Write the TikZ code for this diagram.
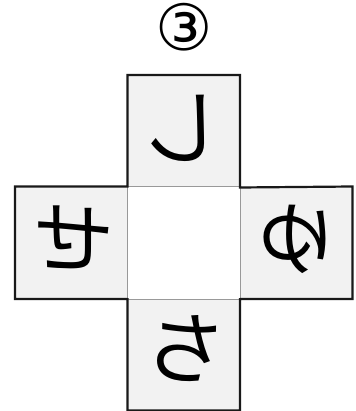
\documentclass[tikz,border=0pt]{standalone}
\usepackage{fontspec}
\usepackage{graphicx}
\newfontfamily\jpfont{Noto Sans CJK JP}
\newfontfamily\symfont{DejaVu Sans}
\begin{document}
\begin{tikzpicture}[x=1pt,y=-1pt,
  outercell/.style={draw=none,fill=black!5,minimum size=112.5pt,inner sep=0pt,outer sep=0pt},
  centercell/.style={draw=black!40,line width=0.8pt,fill=white,minimum size=112.5pt,inner sep=0pt,outer sep=0pt},
  glyph/.style={inner sep=0pt,font=\jpfont\fontsize{80}{80}\selectfont},
  outline/.style={draw=black!90,line width=2.2pt,line join=miter}]
\useasboundingbox (0,0) rectangle (355,411);
\node[outercell] (top) at (183.75,131.25) {};
\node[outercell] (left) at (71.25,242.75) {};
\node[outercell] (right) at (296.25,242.75) {};
\node[outercell] (bottom) at (183.75,354.25) {};
\node[centercell] (center) at (183.75,242.75) {};
\draw[outline] (top.north west) -- (top.north east) -- (top.south east)
  -- (right.north east) -- (right.south east) -- (right.south west)
  -- (bottom.north east) -- (bottom.south east) -- (bottom.south west)
  -- (bottom.north west) -- (left.south east) -- (left.south west)
  -- (left.north west) -- (left.north east) -- cycle;
\node[glyph] (g1) at (183,128) {\reflectbox{し}};
\node[glyph] (g2) at (72,237) {\reflectbox{せ}};
\node[glyph] (g3) at (296,239) {\reflectbox{ゆ}};
\node[glyph] (g4) at (185,350) {\reflectbox{ち}};
\node[inner sep=0pt,font=\symfont\fontsize{64}{64}\selectfont] (num) at (184,27) {③};
\end{tikzpicture}
\end{document}
